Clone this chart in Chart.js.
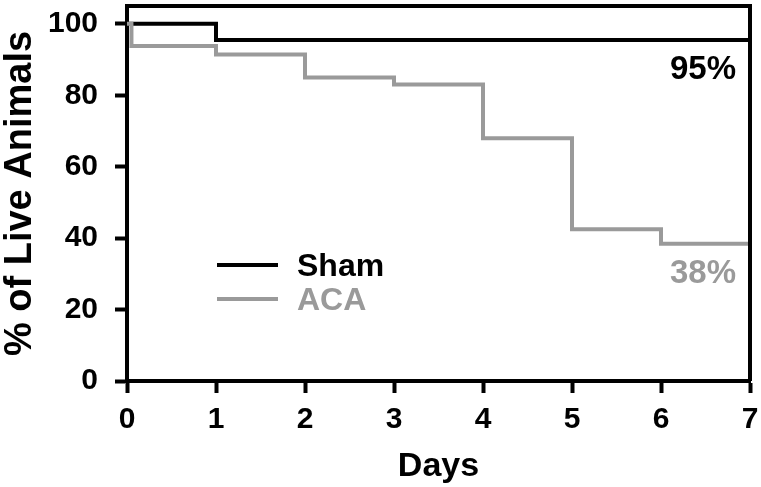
<!DOCTYPE html>
<html>
<head>
<meta charset="utf-8">
<script src="https://cdn.jsdelivr.net/npm/chart.js@4"></script>
<style>
  html, body { margin: 0; padding: 0; background: #fff; }
  #wrap { width: 761px; height: 487px; }
</style>
</head>
<body>
<div id="wrap"><canvas id="chart" width="761" height="487"></canvas></div>
<script>
// Kaplan-Meier style survival steps
const shamDays = [0, 1, 7];
const shamValues = [100, 95.5, 95.5];
const acaDays = [0, 0.05, 1, 2, 3, 4, 5, 6, 7];
const acaValues = [100, 93.8, 91.4, 85, 83, 68, 42.5, 38.4, 38.4];
const seriesNames = ['Sham', 'ACA'];
const endLabels = ['95%', '38%'];
const xTicks = [0, 1, 2, 3, 4, 5, 6, 7];
const yTicks = [0, 20, 40, 60, 80, 100];

const BLACK = '#000000';
const GREY = '#9a9a9a';
const FONT = "'Liberation Sans', Arial, sans-serif";

const toPoints = (days, values) => days.map((d, i) => ({ x: d, y: values[i] }));

// top + right frame lines
const framePlugin = {
    id: 'frame',
    afterDraw(chart) {
        const { ctx, chartArea: a } = chart;
        ctx.save();
        ctx.strokeStyle = BLACK;
        ctx.lineWidth = 4;
        ctx.beginPath();
        ctx.moveTo(a.left, a.top);
        ctx.lineTo(a.right, a.top);
        ctx.lineTo(a.right, a.bottom);
        ctx.stroke();
        ctx.restore();
    }
};

// legend inside the plot + end-of-curve percentages
const labelPlugin = {
    id: 'labels',
    afterDatasetsDraw(chart) {
        const { ctx, chartArea: a, scales } = chart;
        const colors = [BLACK, GREY];
        ctx.save();
        ctx.font = `bold 32px ${FONT}`;
        ctx.textBaseline = 'middle';
        const base = scales.y.getPixelForValue(0);
        seriesNames.forEach((name, i) => {
            const y = base - 116 + i * 34;
            ctx.strokeStyle = colors[i];
            ctx.lineWidth = 4;
            ctx.beginPath();
            ctx.moveTo(a.left + 90, y);
            ctx.lineTo(a.left + 151, y);
            ctx.stroke();
            ctx.fillStyle = colors[i];
            ctx.textAlign = 'left';
            ctx.fillText(name, a.left + 170, y + 2);
        });
        const finals = [shamValues[shamValues.length - 1], acaValues[acaValues.length - 1]];
        ctx.font = `bold 33px ${FONT}`;
        ctx.textAlign = 'right';
        endLabels.forEach((txt, i) => {
            const y = scales.y.getPixelForValue(finals[i]);
            ctx.fillStyle = colors[i];
            ctx.fillText(txt, a.right - 14, y + 30);
        });
        ctx.restore();
    }
};

new Chart(document.getElementById('chart'), {
    type: 'line',
    data: {
        datasets: [
            {
                label: seriesNames[1],
                data: toPoints(acaDays, acaValues),
                borderColor: GREY,
                borderWidth: 4,
                stepped: 'before',
                pointRadius: 0,
                fill: false,
                clip: false,
                order: 0
            },
            {
                label: seriesNames[0],
                data: toPoints(shamDays, shamValues),
                borderColor: BLACK,
                borderWidth: 4,
                stepped: 'before',
                pointRadius: 0,
                fill: false,
                clip: false,
                order: 1
            }
        ]
    },
    options: {
        responsive: false,
        animation: false,
        layout: { padding: { top: 6, right: 11, left: 0, bottom: 0 } },
        plugins: {
            legend: { display: false },
            tooltip: { enabled: false }
        },
        scales: {
            x: {
                type: 'linear',
                min: 0,
                max: 7,
                afterBuildTicks: axis => { axis.ticks = xTicks.map(v => ({ value: v })); },
                afterFit: axis => {
                    axis.height = 106;
                    axis.paddingLeft = 0;
                    axis.paddingRight = 0;
                },
                ticks: {
                    color: BLACK,
                    font: { family: FONT, size: 30, weight: 'bold' },
                    padding: 9,
                    maxRotation: 0
                },
                grid: {
                    display: true,
                    drawOnChartArea: false,
                    drawTicks: true,
                    tickLength: 12,
                    tickWidth: 4,
                    color: BLACK
                },
                border: { display: true, color: BLACK, width: 4 },
                title: {
                    display: true,
                    text: 'Days',
                    color: BLACK,
                    font: { family: FONT, size: 34, weight: 'bold' },
                    padding: { top: 0, bottom: 0 }
                }
            },
            y: {
                min: 0,
                max: 105,
                afterBuildTicks: axis => { axis.ticks = yTicks.map(v => ({ value: v })); },
                afterFit: axis => {
                    axis.width = 127;
                    axis.paddingTop = 6;
                    axis.paddingBottom = 0;
                },
                ticks: {
                    color: BLACK,
                    font: { family: FONT, size: 30, weight: 'bold' },
                    padding: 17
                },
                grid: {
                    display: true,
                    drawOnChartArea: false,
                    drawTicks: true,
                    tickLength: 12,
                    tickWidth: 4,
                    color: BLACK
                },
                border: { display: true, color: BLACK, width: 4 },
                title: {
                    display: true,
                    text: '% of Live Animals',
                    color: BLACK,
                    font: { family: FONT, size: 38, weight: 'bold', lineHeight: 1 },
                    padding: { top: 2, bottom: 0 }
                }
            }
        }
    },
    plugins: [framePlugin, labelPlugin]
});
</script>
</body>
</html>
